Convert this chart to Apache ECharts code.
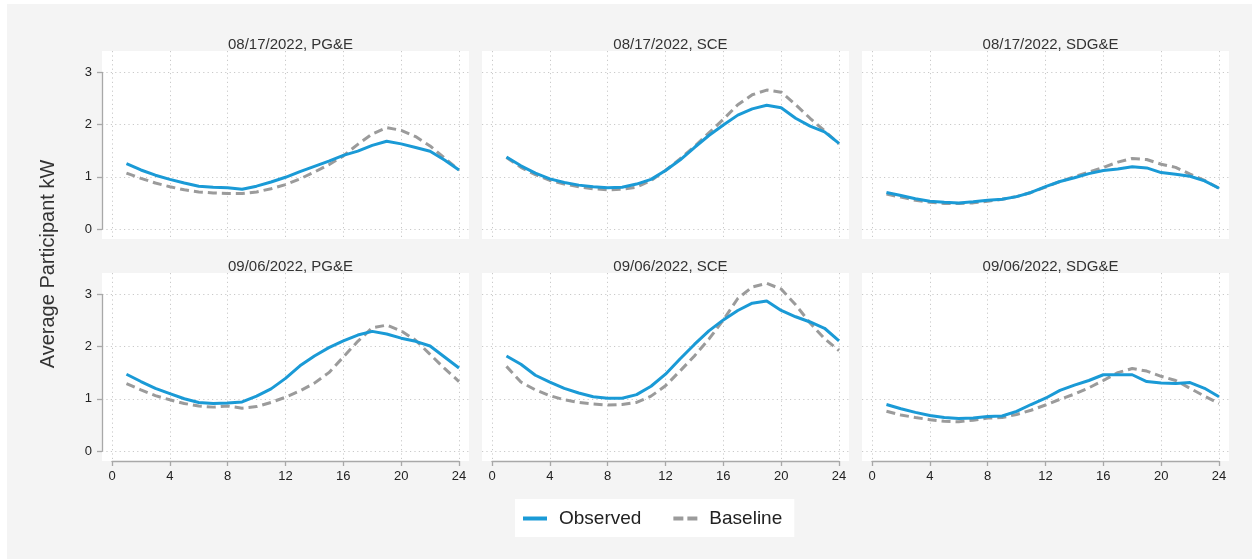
<!DOCTYPE html>
<html>
<head>
    <meta charset="utf-8">
    <title>Average Participant kW</title>
    <script src="https://cdn.jsdelivr.net/npm/echarts@6/dist/echarts.min.js"></script>
    <style>html, body { margin: 0; background: #ffffff; }</style>
</head>
<body>
    <div id="main" style="width: 1252px;height:559px;"></div>
    <script type="text/javascript">
        // hour of day (x)
        var hours = [1, 2, 3, 4, 5, 6, 7, 8, 9, 10, 11, 12, 13, 14, 15, 16, 17, 18, 19, 20, 21, 22, 23, 24];
        var xTicks = [0, 4, 8, 12, 16, 20, 24];
        var yTicks = [0, 1, 2, 3];

        var panelTitles = [
            '08/17/2022, PG&E', '08/17/2022, SCE', '08/17/2022, SDG&E',
            '09/06/2022, PG&E', '09/06/2022, SCE', '09/06/2022, SDG&E'
        ];

        // observed / baseline average participant kW, one array per panel
        var obs0817PGE = [1.25, 1.13, 1.03, 0.95, 0.88, 0.82, 0.80, 0.79, 0.76, 0.82, 0.90, 0.99, 1.10, 1.20, 1.30, 1.41, 1.49, 1.60, 1.68, 1.63, 1.56, 1.49, 1.32, 1.13];
        var base0817PGE = [1.07, 0.97, 0.88, 0.81, 0.75, 0.71, 0.69, 0.68, 0.68, 0.71, 0.77, 0.85, 0.96, 1.09, 1.23, 1.40, 1.62, 1.82, 1.94, 1.89, 1.77, 1.59, 1.36, 1.13];
        var obs0817SCE = [1.38, 1.21, 1.07, 0.96, 0.89, 0.84, 0.81, 0.79, 0.80, 0.86, 0.95, 1.12, 1.32, 1.56, 1.79, 1.99, 2.18, 2.30, 2.37, 2.32, 2.12, 1.97, 1.86, 1.64];
        var base0817SCE = [1.37, 1.18, 1.04, 0.93, 0.86, 0.81, 0.77, 0.75, 0.76, 0.80, 0.93, 1.12, 1.34, 1.58, 1.84, 2.10, 2.38, 2.57, 2.66, 2.62, 2.38, 2.12, 1.88, 1.63];
        var obs0817SDGE = [0.70, 0.64, 0.58, 0.53, 0.51, 0.50, 0.52, 0.55, 0.57, 0.62, 0.70, 0.81, 0.91, 0.98, 1.06, 1.12, 1.15, 1.19, 1.17, 1.08, 1.05, 1.01, 0.92, 0.78];
        var base0817SDGE = [0.67, 0.61, 0.55, 0.51, 0.49, 0.49, 0.50, 0.53, 0.57, 0.62, 0.70, 0.80, 0.91, 1.00, 1.09, 1.18, 1.28, 1.35, 1.33, 1.24, 1.18, 1.05, 0.93, 0.78];
        var obs0906PGE = [1.47, 1.33, 1.20, 1.10, 1.00, 0.93, 0.91, 0.92, 0.94, 1.05, 1.19, 1.39, 1.63, 1.82, 1.98, 2.11, 2.22, 2.29, 2.24, 2.16, 2.10, 2.01, 1.80, 1.59];
        var base0906PGE = [1.29, 1.17, 1.06, 0.98, 0.91, 0.86, 0.84, 0.86, 0.82, 0.85, 0.93, 1.03, 1.15, 1.30, 1.50, 1.80, 2.10, 2.36, 2.41, 2.30, 2.12, 1.85, 1.58, 1.33];
        var obs0906SCE = [1.82, 1.66, 1.45, 1.32, 1.20, 1.11, 1.04, 1.01, 1.01, 1.08, 1.24, 1.47, 1.76, 2.04, 2.30, 2.51, 2.69, 2.83, 2.87, 2.69, 2.57, 2.47, 2.35, 2.11];
        var base0906SCE = [1.62, 1.32, 1.17, 1.06, 0.98, 0.93, 0.90, 0.88, 0.89, 0.93, 1.05, 1.25, 1.53, 1.82, 2.14, 2.51, 2.92, 3.14, 3.21, 3.10, 2.80, 2.45, 2.15, 1.92];
        var obs0906SDGE = [0.89, 0.81, 0.74, 0.68, 0.64, 0.62, 0.63, 0.66, 0.67, 0.76, 0.89, 1.01, 1.16, 1.26, 1.35, 1.46, 1.46, 1.46, 1.33, 1.30, 1.29, 1.31, 1.20, 1.04];
        var base0906SDGE = [0.76, 0.69, 0.64, 0.60, 0.57, 0.56, 0.59, 0.63, 0.64, 0.70, 0.78, 0.88, 0.99, 1.09, 1.21, 1.35, 1.50, 1.58, 1.53, 1.43, 1.35, 1.20, 1.05, 0.91];

        var observed = [obs0817PGE, obs0817SCE, obs0817SDGE, obs0906PGE, obs0906SCE, obs0906SDGE];
        var baseline = [base0817PGE, base0817SCE, base0817SDGE, base0906PGE, base0906SCE, base0906SDGE];

        var font = '"Liberation Sans", Arial, Helvetica, sans-serif';
        var blue = '#1a9ad6';
        var grey = '#9b9b9b';

        // layout of the panels (pixels)
        var colLeft = [102, 482, 862];
        var rowTop = [51, 273];
        var panelW = 367, panelH = 188;
        var padX = 10, padTop = 21.3, padBottom = 10;
        var plotW = panelW - 2 * padX, plotH = panelH - padTop - padBottom;
        var xUnit = plotW / 24, yUnit = plotH / 3;

        function pairs(vals) {
            return hours.map(function (h, i) { return [h, vals[i]]; });
        }

        var grids = [], xAxes = [], yAxes = [], series = [], titles = [];
        var gridLine = { show: true, lineStyle: { color: '#c9c9c9', width: 1, type: [1.2, 3.2] } };

        for (var p = 0; p < 6; p++) {
            var c = p % 3, r = Math.floor(p / 3);
            // white panel: gridlines + curves
            grids.push({
                left: colLeft[c], top: rowTop[r], width: panelW, height: panelH,
                show: true, backgroundColor: '#ffffff', borderWidth: 0
            });
            xAxes.push({
                gridIndex: p, type: 'value',
                min: -padX / xUnit, max: 24 + padX / xUnit,
                axisLine: { show: false },
                axisTick: { show: false, customValues: xTicks },
                axisLabel: { show: false, customValues: xTicks },
                splitLine: gridLine
            });
            yAxes.push({
                gridIndex: p, type: 'value',
                min: -padBottom / yUnit, max: 3 + padTop / yUnit,
                axisLine: { show: false },
                axisTick: { show: false, customValues: yTicks },
                axisLabel: { show: false, customValues: yTicks },
                splitLine: gridLine
            });
            series.push({
                name: 'Baseline', type: 'line', xAxisIndex: p, yAxisIndex: p,
                data: pairs(baseline[p]), showSymbol: false, symbol: 'none', silent: true,
                lineStyle: { color: grey, width: 3, type: [9, 5] },
                itemStyle: { color: grey }, z: 3
            });
            series.push({
                name: 'Observed', type: 'line', xAxisIndex: p, yAxisIndex: p,
                data: pairs(observed[p]), showSymbol: false, symbol: 'none', silent: true,
                lineStyle: { color: blue, width: 3 },
                itemStyle: { color: blue }, z: 4
            });
            titles.push({
                text: panelTitles[p],
                left: colLeft[c] + panelW / 2, top: rowTop[r] - 19, textAlign: 'center',
                textStyle: { fontFamily: font, fontSize: 15, fontWeight: 'normal', color: '#333333' }
            });
        }

        // axis frames (tick range only)
        for (var q = 0; q < 6; q++) {
            var cc = q % 3, rr = Math.floor(q / 3);
            grids.push({
                left: colLeft[cc] + padX, top: rowTop[rr] + padTop, width: plotW, height: plotH,
                show: false
            });
            xAxes.push({
                gridIndex: 6 + q, type: 'value', min: 0, max: 24, interval: 4,
                show: rr === 1, position: 'bottom', offset: 10,
                axisLine: { show: true, onZero: false, lineStyle: { color: '#a8a8a8', width: 1.3 } },
                axisTick: { show: true, length: 5, lineStyle: { color: '#a8a8a8', width: 1.3 } },
                axisLabel: { fontFamily: font, fontSize: 13, color: '#222222', margin: 9 },
                splitLine: { show: false }
            });
            yAxes.push({
                gridIndex: 6 + q, type: 'value', min: 0, max: 3, interval: 1,
                show: cc === 0, position: 'left', offset: 10,
                axisLine: { show: true, onZero: false, lineStyle: { color: '#a8a8a8', width: 1.3 } },
                axisTick: { show: true, length: 5, lineStyle: { color: '#a8a8a8', width: 1.3 } },
                axisLabel: { fontFamily: font, fontSize: 13, color: '#222222', margin: 10 },
                splitLine: { show: false }
            });
        }

        var myChart = echarts.init(document.getElementById('main'));
        myChart.setOption({
            animation: false,
            backgroundColor: '#ffffff',
            graphic: [
                { type: 'rect', z: -10, shape: { x: 7, y: 4, width: 1245, height: 555 }, style: { fill: '#f4f4f4' } },
                {
                    type: 'text', x: 48, y: 264, rotation: Math.PI / 2,
                    style: {
                        text: 'Average Participant kW', fontFamily: font, fontSize: 20,
                        fill: '#333333', align: 'center', verticalAlign: 'middle'
                    }
                }
            ],
            title: titles,
            legend: {
                data: [
                    { name: 'Observed', icon: 'path://M0,0H24V4H0Z' },
                    { name: 'Baseline', icon: 'path://M0,0H10V4H0Z M14,0H24V4H14Z' }
                ],
                left: 515, top: 499,
                backgroundColor: '#ffffff',
                padding: [10, 12, 9, 8],
                itemWidth: 24, itemHeight: 4, itemGap: 32,
                textStyle: { fontFamily: font, fontSize: 19, color: '#222222', padding: [0, 0, 0, 7] }
            },
            grid: grids,
            xAxis: xAxes,
            yAxis: yAxes,
            series: series
        });
    </script>
</body>
</html>
